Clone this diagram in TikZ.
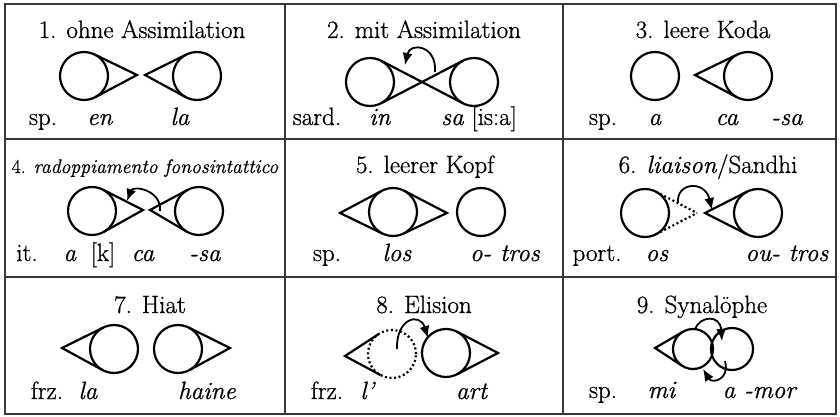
\documentclass[tikz,border=0pt]{standalone}
\usepackage{fontspec}
\setmainfont{Latin Modern Roman}[RawFeature={embolden=0.8}]
\usetikzlibrary{calc,arrows.meta}
\newcommand{\sylltail}[3][]{%
  \draw[shapeline,#1] (tangent cs:node=#2,point={(#3)},solution=1) -- (#3) -- (tangent cs:node=#2,point={(#3)},solution=2);}
\newcommand{\syllcross}[2]{%
  \draw[shapeline] (tangent cs:node=#1,point={(#2)},solution=1) -- (#2);
  \draw[shapeline] (tangent cs:node=#1,point={(#2)},solution=2) -- (#2);}
\begin{document}
\begin{tikzpicture}[x=1pt,y=-1pt,
  syl/.style={circle,draw,line width=2.2pt,inner sep=0pt,outer sep=0pt,minimum size=48pt},
  dotsyl/.style={syl,dash pattern=on 2pt off 2.6pt},
  shapeline/.style={line width=2.2pt,line join=miter},
  dotline/.style={dash pattern=on 2pt off 2.6pt},
  arr/.style={line width=1.8pt,-{Latex[length=12pt,width=10pt]}},
  gridline/.style={line width=2pt,draw=black!78},
  ttl/.style={font=\fontsize{25}{29}\selectfont,anchor=base,inner sep=0pt},
  lbl/.style={font=\fontsize{25}{29}\selectfont,anchor=base,inner sep=0pt},
]
\useasboundingbox (0,0) rectangle (840,417);
% grid
\draw[gridline] (5,4) rectangle (836,414);
\draw[gridline] (285,4) -- (285,414);
\draw[gridline] (563,4) -- (563,414);
\draw[gridline] (5,139) -- (836,139);
\draw[gridline] (5,277) -- (836,277);

% titles
\node[ttl] (t1) at (142,38) {1. ohne Assimilation};
\node[ttl] (t2) at (424,38) {2. mit Assimilation};
\node[ttl] (t3) at (703,38) {3. leere Koda};
\node[ttl,font=\fontsize{19.7}{23}\selectfont] (t4) at (145,173) {4. \textit{radoppiamento fonosintattico}};
\node[ttl] (t5) at (425,173) {5. leerer Kopf};
\node[ttl] (t6) at (708,173) {6. \textit{liaison}/Sandhi};
\node[ttl] (t7) at (150,313) {7. Hiat};
\node[ttl] (t8) at (424,313) {8. Elision};
\node[ttl] (t9) at (702,313) {9. Synalöphe};

% cell 1
\node[syl] (a1) at (84,76) {};
\node[syl] (b1) at (197,76) {};
\coordinate (a1t) at (137,75);
\coordinate (b1t) at (145,75);
\sylltail{a1}{a1t}
\sylltail{b1}{b1t}
\node[lbl] (l11) at (43,125) {sp.};
\node[lbl] (l12) at (100,125) {\textit{en}};
\node[lbl] (l13) at (180,125) {\textit{la}};

% cell 2
\node[syl] (a2) at (370,82) {};
\node[syl] (b2) at (474,82) {};
\coordinate (m2) at (422,82);
\syllcross{a2}{m2}
\syllcross{b2}{m2}
\coordinate (s2) at (435,72);
\coordinate (e2) at (405,65);
\draw[arr] (s2) .. controls (437,45) and (410,42) .. (e2);
\node[lbl] (l21) at (317,125) {sard.};
\node[lbl] (l22) at (380,125) {\textit{in}};
\node[lbl] (l23) at (479,125) {\textit{sa} [is:a]};

% cell 3
\node[syl] (a3) at (655,76) {};
\node[syl] (b3) at (748,76) {};
\coordinate (b3t) at (695,75);
\sylltail{b3}{b3t}
\node[lbl] (l31) at (603,125) {sp.};
\node[lbl] (l32) at (655,125) {\textit{a}};
\node[lbl] (l33) at (727,125) {\textit{ca}};
\node[lbl] (l34) at (787,125) {\textit{-sa}};

% cell 4
\node[syl] (a4) at (92,211) {};
\node[syl] (b4) at (199,211) {};
\coordinate (a4t) at (143,210);
\coordinate (b4t) at (150,210);
\sylltail{a4}{a4t}
\sylltail{b4}{b4t}
\coordinate (s4) at (160,211);
\coordinate (e4) at (127,201);
\draw[arr] (s4) .. controls (162,190) and (133,185) .. (e4);
\node[lbl] (l41) at (27,261) {it.};
\node[lbl] (l42) at (70,261) {\textit{a}};
\node[lbl] (l43) at (103,261) {[k]};
\node[lbl] (l44) at (143,261) {\textit{ca}};
\node[lbl] (l45) at (205,261) {\textit{-sa}};

% cell 5
\node[syl] (a5) at (393,212) {};
\node[syl] (b5) at (481,212) {};
\coordinate (a5l) at (340,213);
\coordinate (a5r) at (447,213);
\sylltail{a5}{a5l}
\sylltail{a5}{a5r}
\node[lbl] (l51) at (327,261) {sp.};
\node[lbl] (l52) at (397,261) {\textit{los}};
\node[lbl] (l53) at (505,261) {\textit{o- tros}};

% cell 6
\node[syl] (a6) at (645,213) {};
\node[syl] (b6) at (758,213) {};
\coordinate (a6t) at (697,213);
\coordinate (b6t) at (705,213);
\draw[shapeline,dotline] (tangent cs:node=a6,point={(a6t)},solution=1) -- (a6t);
\draw[shapeline,dotline] (tangent cs:node=a6,point={(a6t)},solution=2) -- (a6t);
\sylltail{b6}{b6t}
\coordinate (s6) at (678,203);
\coordinate (e6) at (712,210);
\draw[arr] (s6) .. controls (676,182) and (705,180) .. (e6);
\node[lbl] (l61) at (597,261) {port.};
\node[lbl] (l62) at (657,261) {\textit{os}};
\node[lbl] (l63) at (787,261) {\textit{ou- tros}};

% cell 7
\node[syl] (a7) at (114,349) {};
\node[syl] (b7) at (178,349) {};
\coordinate (a7t) at (62,348);
\coordinate (b7t) at (230,348);
\sylltail{a7}{a7t}
\sylltail{b7}{b7t}
\node[lbl] (l71) at (47,399) {frz.};
\node[lbl] (l72) at (88,399) {\textit{la}};
\node[lbl] (l73) at (207,399) {\textit{haine}};

% cell 8
\node[dotsyl] (a8) at (392,354) {};
\node[syl] (b8) at (446,353) {};
\coordinate (a8t) at (345,356);
\coordinate (b8t) at (498,353);
\sylltail{a8}{a8t}
\sylltail{b8}{b8t}
\coordinate (s8) at (397,349);
\coordinate (e8) at (428,338);
\draw[arr] (s8) .. controls (396,318) and (420,312) .. (e8);
\node[lbl] (l81) at (327,399) {frz.};
\node[lbl] (l82) at (368,399) {\textit{l’}};
\node[lbl] (l83) at (472,399) {\textit{art}};

% cell 9
\node[syl,minimum size=40pt] (a9) at (693,349) {};
\node[syl,minimum size=42pt] (b9) at (732,349) {};
\coordinate (a9t) at (655,348);
\sylltail{a9}{a9t}
\coordinate (s9) at (695,329);
\coordinate (e9) at (722,341);
\draw[arr] (s9) .. controls (700,316) and (720,314) .. (e9);
\coordinate (s9b) at (725,361);
\coordinate (e9b) at (703,369);
\draw[arr] (s9b) .. controls (730,380) and (712,384) .. (e9b);
\node[lbl] (l91) at (603,398) {sp.};
\node[lbl] (l92) at (662,398) {\textit{mi}};
\node[lbl] (l93) at (760,398) {\textit{a -mor}};
\end{tikzpicture}
\end{document}
